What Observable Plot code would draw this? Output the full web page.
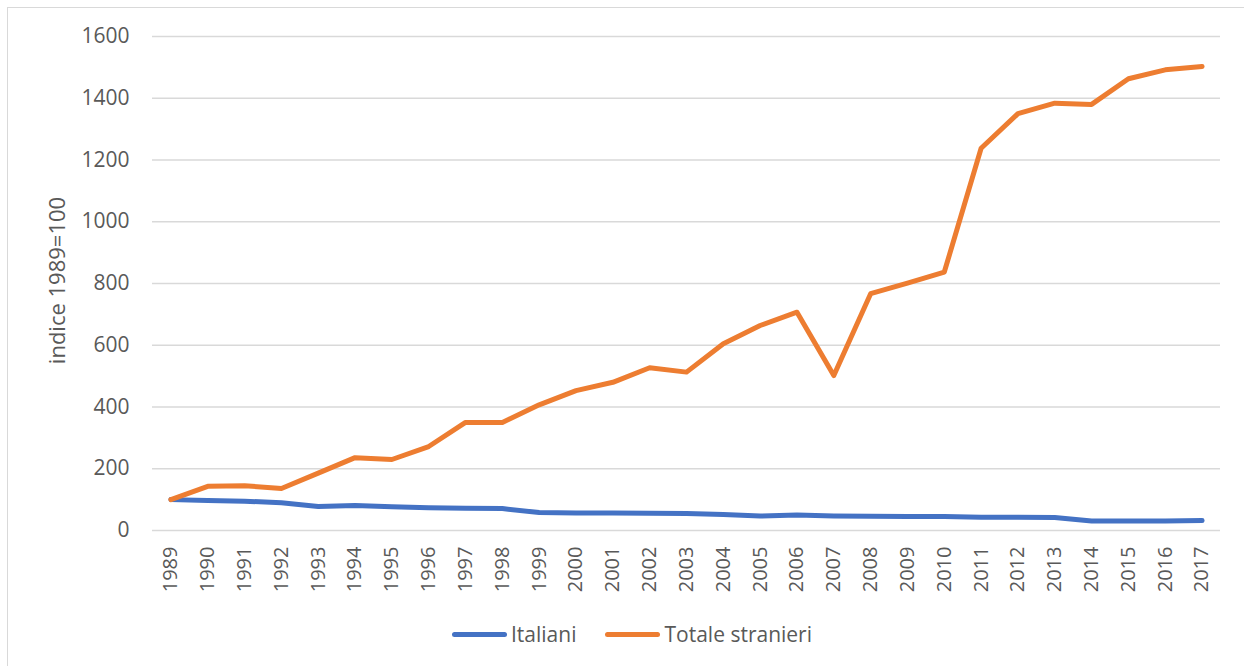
<!DOCTYPE html>
<html>
<head>
<meta charset="utf-8">
<script src="https://cdn.jsdelivr.net/npm/d3@7"></script>
<script src="https://cdn.jsdelivr.net/npm/@observablehq/plot@0.6"></script>
<style>
  html, body { margin: 0; padding: 0; background: #fff; overflow: hidden; }
  #wrap { position: relative; width: 1244px; height: 666px; overflow: hidden; font-family: "Open Sans", sans-serif; }
  #frame { position: absolute; left: 7px; top: 7px; width: 1400px; height: 800px; border-left: 1.5px solid #d9d9d9; border-top: 1.5px solid #d9d9d9; box-sizing: border-box; }
  #chart { position: absolute; left: 0; top: 0; }
  #legend { position: absolute; top: 620px; left: 452px; display: flex; align-items: center; font-size: 21px; color: #595959; white-space: nowrap; }
  .item { display: flex; align-items: center; margin-right: 29px; }
  .sw { width: 55px; height: 5px; border-radius: 3px; margin-right: 4px; }
</style>
</head>
<body>
<div id="wrap">
  <div id="frame"></div>
  <div id="chart"></div>
  <div id="legend"></div>
</div>
<script>
const years = ["1989","1990","1991","1992","1993","1994","1995","1996","1997","1998","1999","2000","2001","2002","2003","2004","2005","2006","2007","2008","2009","2010","2011","2012","2013","2014","2015","2016","2017"];
const italiani = [100,97,95,90,78,81,77,74,72,71,58,57,57,56,55,52,47,50,47,46,45,45,43,43,42,31,31,31,32];
const stranieri = [100,143,145,136,186,236,230,272,350,350,407,453,480,527,513,605,664,707,502,767,801,837,1238,1350,1384,1380,1463,1492,1503];
const seriesNames = ["Italiani", "Totale stranieri"];
const seriesColors = ["#4472C4", "#ED7D31"];
const yTicks = [0,200,400,600,800,1000,1200,1400,1600];
const yLabel = "indice 1989=100";

const data = [];
years.forEach((y, i) => {
  data.push({year: y, value: italiani[i], series: seriesNames[0]});
  data.push({year: y, value: stranieri[i], series: seriesNames[1]});
});

const chart = Plot.plot({
  width: 1244,
  height: 600,
  marginLeft: 152,
  marginRight: 24,
  marginTop: 36,
  marginBottom: 70,
  style: {fontFamily: "Open Sans, sans-serif", fontSize: "21px", color: "#595959", background: "transparent", overflow: "visible"},
  x: {type: "point", domain: years, padding: 0.5, round: false},
  y: {domain: [0, 1600]},
  color: {domain: seriesNames, range: seriesColors},
  marks: [
    Plot.ruleY(yTicks, {stroke: "#d9d9d9", strokeWidth: 1.5}),
    Plot.axisY(yTicks, {tickSize: 0, tickPadding: 23, tickFormat: "d", label: null, fontSize: 21}),
    Plot.axisX({tickSize: 0, tickRotate: -90, tickPadding: 16, label: null, fontSize: 20}),
    Plot.text([yLabel], {frameAnchor: "left", textAnchor: "middle", rotate: -90, dx: -95, dy: -3, fontSize: 22, fill: "#595959"}),
    Plot.line(data, {x: "year", y: "value", stroke: "series", strokeWidth: 5, strokeLinecap: "round", strokeLinejoin: "round"})
  ]
});
document.getElementById("chart").appendChild(chart);

const legend = document.getElementById("legend");
seriesNames.forEach((name, i) => {
  const item = document.createElement("div");
  item.className = "item";
  const sw = document.createElement("div");
  sw.className = "sw";
  sw.style.background = seriesColors[i];
  const label = document.createElement("span");
  label.textContent = name;
  item.appendChild(sw);
  item.appendChild(label);
  legend.appendChild(item);
});
</script>
</body>
</html>
